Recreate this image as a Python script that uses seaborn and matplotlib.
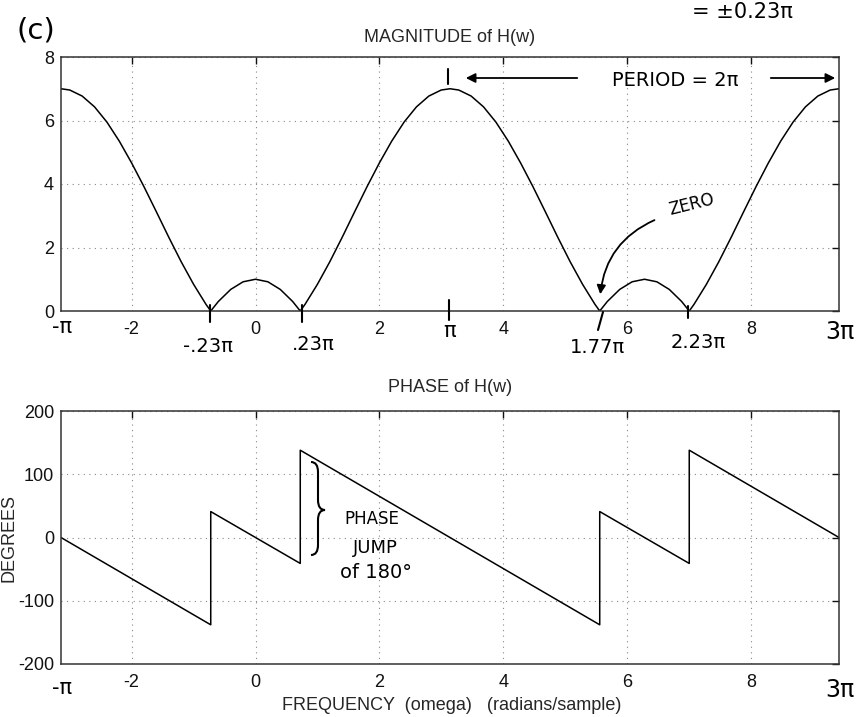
import matplotlib
matplotlib.use("Agg")
import matplotlib.pyplot as plt
import seaborn as sns
import pandas as pd
from matplotlib.lines import Line2D
from matplotlib.path import Path
from matplotlib.patches import PathPatch

W, H = 860, 717

# magnitude |H(w)| (first period -pi..pi)
mag_x1 = [-3.142, -3.0, -2.8, -2.6, -2.4, -2.2, -2.0, -1.8, -1.6, -1.4, -1.2, -1.0, -0.8, -0.723,
          -0.6, -0.4, -0.2, 0.0, 0.2, 0.4, 0.6, 0.723, 0.8, 1.0, 1.2, 1.4, 1.6, 1.8, 2.0, 2.2,
          2.4, 2.6, 2.8, 3.0, 3.142]
mag_y1 = [7.00, 6.96, 6.77, 6.43, 5.95, 5.35, 4.66, 3.91, 3.12, 2.32, 1.55, 0.84, 0.21, 0.0,
          0.30, 0.68, 0.92, 1.00, 0.92, 0.68, 0.30, 0.0, 0.21, 0.84, 1.55, 2.32, 3.12, 3.91, 4.66, 5.35,
          5.95, 6.43, 6.77, 6.96, 7.00]
# second period pi..3pi
mag_x2 = [3.283, 3.483, 3.683, 3.883, 4.083, 4.283, 4.483, 4.683, 4.883, 5.083, 5.283, 5.483, 5.560,
          5.683, 5.883, 6.083, 6.283, 6.483, 6.683, 6.883, 7.006, 7.083, 7.283, 7.483, 7.683, 7.883,
          8.083, 8.283, 8.483, 8.683, 8.883, 9.083, 9.283, 9.425]
mag_y2 = [6.96, 6.77, 6.43, 5.95, 5.35, 4.66, 3.91, 3.12, 2.32, 1.55, 0.84, 0.21, 0.0,
          0.30, 0.68, 0.92, 1.00, 0.92, 0.68, 0.30, 0.0, 0.21, 0.84, 1.55, 2.32, 3.12,
          3.91, 4.66, 5.35, 5.95, 6.43, 6.77, 6.96, 7.00]

# phase in degrees (straight segments with 180 deg jumps)
phase_x = [-3.142, -0.723, -0.723, 0.723, 0.723, 5.560, 5.560, 7.006, 7.006, 9.425]
phase_y = [0, -138, 41, -41, 138, -138, 41, -41, 138, 0]

mag_ticks = [0, 2, 4, 6, 8]
phase_ticks = [-200, -100, 0, 100, 200]
freq_ticks = [-2, 0, 2, 4, 6, 8]

sns.set_style("white")
plt.rcParams['font.family'] = ['Liberation Sans', 'DejaVu Sans']
plt.rcParams['axes.unicode_minus'] = False

mag = pd.DataFrame({'w': mag_x1 + mag_x2, 'm': mag_y1 + mag_y2})
ph = pd.DataFrame({'w': phase_x, 'p': phase_y})

fig = plt.figure(figsize=(W / 100, H / 100), dpi=100)
ax1 = fig.add_axes([61 / W, 1 - 311 / H, 778 / W, 254 / H])
ax2 = fig.add_axes([61 / W, 1 - 664 / H, 778 / W, 253 / H])

sns.lineplot(data=mag, x='w', y='m', ax=ax1, color='black', lw=1.1, sort=False, estimator=None)
sns.lineplot(data=ph, x='w', y='p', ax=ax2, color='black', lw=1.1, sort=False, estimator=None)

for ax, yt in [(ax1, mag_ticks), (ax2, phase_ticks)]:
    ax.set_xlim(-3.1416, 9.4248)
    ax.set_ylim(yt[0], yt[-1])
    ax.set_xticks(freq_ticks)
    ax.set_yticks(yt)
    ax.set_xlabel('')
    ax.set_ylabel('')
    ax.grid(True, linestyle=(0, (1, 4)), color='#888888', lw=0.8)
    ax.tick_params(direction='in', top=True, right=True, length=5, width=1,
                   labelsize=13, colors='#111111', pad=5)
    ax.tick_params(axis='x', pad=7)
    for s in ax.spines.values():
        s.set_color('#333333')
        s.set_linewidth(1.1)


def fp(x, y):
    return (x / W, 1 - y / H)


def ftext(x, y, s, size, **kw):
    fig.text(*fp(x, y), s, fontsize=size, ha='center', va='center', **kw)


hand = dict(family=['DejaVu Sans'], color='black')

# printed titles / labels
ftext(450, 37, 'MAGNITUDE of H(w)', 13)
ftext(450, 388, 'PHASE of H(w)', 13)
ftext(452, 705, 'FREQUENCY  (omega)   (radians/sample)', 13)
ftext(9, 538, 'DEGREES', 13, rotation=90)

# handwritten notes
ftext(36, 31, '(c)', 21, **hand)
ftext(742, 12, '= ±0.23π', 15, **hand)
ftext(675, 80, 'PERIOD = 2π', 14, **hand)
fig.add_artist(Line2D([448 / W, 448 / W], [1 - 69 / H, 1 - 84 / H], color='black', lw=1.5))
ax1.annotate('', xy=fp(463, 78), xytext=fp(580, 78), xycoords='figure fraction',
             arrowprops=dict(arrowstyle='-|>', color='black', lw=1.3, mutation_scale=14))
ax1.annotate('', xy=fp(838, 78), xytext=fp(768, 78), xycoords='figure fraction',
             arrowprops=dict(arrowstyle='-|>', color='black', lw=1.3, mutation_scale=14))

ftext(692, 205, 'ZERO', 12, rotation=14, **hand)
ax1.annotate('', xy=fp(600, 297), xytext=fp(657, 219), xycoords='figure fraction',
             arrowprops=dict(arrowstyle='-|>', color='black', lw=1.3, mutation_scale=13,
                             connectionstyle='arc3,rad=0.3'))

# hand ticks below the magnitude axis
for (x0, y0, x1, y1) in [(210, 305, 210, 322), (302, 305, 302, 322), (449, 300, 449, 320),
                         (603, 312, 598, 330), (688, 306, 688, 318)]:
    fig.add_artist(Line2D([x0 / W, x1 / W], [1 - y0 / H, 1 - y1 / H], color='black', lw=1.5))

ftext(62, 327, '-π', 15, **hand)
ftext(208, 346, '-.23π', 14, **hand)
ftext(313, 345, '.23π', 14, **hand)
ftext(450, 331, 'π', 15, **hand)
ftext(598, 348, '1.77π', 14, **hand)
ftext(698, 342, '2.23π', 14, **hand)
ftext(840, 332, '3π', 17, **hand)

ftext(62, 688, '-π', 15, **hand)
ftext(840, 690, '3π', 17, **hand)

# brace + phase jump note
pts = [(311, 462), (318, 462), (318, 472), (318, 500), (318, 510), (325, 510),
       (318, 510), (318, 520), (318, 545), (318, 555), (311, 555)]
codes = [Path.MOVETO, Path.CURVE3, Path.CURVE3, Path.LINETO, Path.CURVE3, Path.CURVE3,
         Path.CURVE3, Path.CURVE3, Path.LINETO, Path.CURVE3, Path.CURVE3]
brace = Path([fp(x, y) for x, y in pts], codes)
fig.add_artist(PathPatch(brace, transform=fig.transFigure, fill=False, lw=1.5, color='black'))
ftext(372, 519, 'PHASE', 12, **hand)
ftext(375, 548, 'JUMP', 13, **hand)
ftext(376, 573, 'of 180°', 14, **hand)

fig.savefig('out.png', dpi=100)
